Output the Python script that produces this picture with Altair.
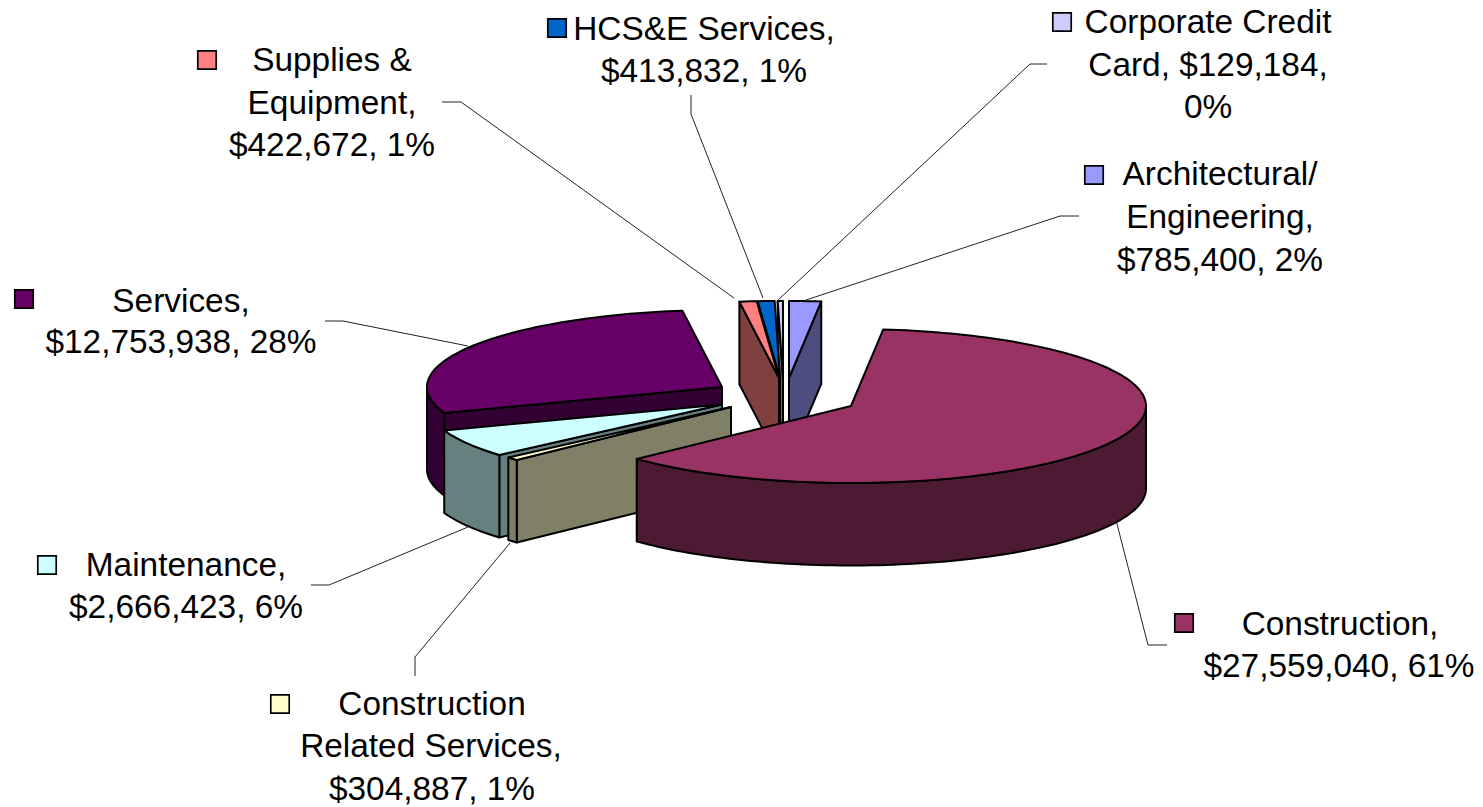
import math
import altair as alt
import pandas as pd

# ---- data
categories = ["Architectural/Engineering", "Construction", "Construction Related Services",
              "Maintenance", "Services", "Supplies & Equipment", "HCS&E Services", "Corporate Credit Card"]
values = [785400, 27559040, 304887, 2666423, 12753938, 422672, 413832, 129184]
top_colors = ["#9999ff", "#993366", "#ffffcc", "#ccffff", "#660066", "#ff8080", "#0066cc", "#ccccff"]
wall_colors = ["#4d4d80", "#4d1a33", "#808066", "#668080", "#330033", "#804040", "#003366", "#666680"]

# ---- layout of the exploded 3-D pie (page pixels)
apex_x = [789, 851, 731, 722, 722, 779, 780, 783]
apex_y = [378, 406, 407, 404.5, 387, 378, 378, 378]
RX, RY, DEPTH = 295, 77, 82.5
draw_order = [4, 3, 2, 7, 6, 5, 0, 1]

label_lines = [
    ("Corporate Credit", 1208, 33), ("Card, $129,184,", 1208, 75.5), ("0%", 1208, 118),
    ("Architectural/", 1220, 185), ("Engineering,", 1220, 228), ("$785,400, 2%", 1220, 271),
    ("HCS&E Services,", 704, 40), ("$413,832, 1%", 704, 82),
    ("Supplies &", 332, 71), ("Equipment,", 332, 114), ("$422,672, 1%", 332, 156),
    ("Services,", 181, 312), ("$12,753,938, 28%", 181, 353),
    ("Maintenance,", 186, 576), ("$2,666,423, 6%", 186, 618),
    ("Construction", 432, 715), ("Related Services,", 431, 757), ("$304,887, 1%", 432, 800),
    ("Construction,", 1340, 635), ("$27,559,040, 61%", 1339, 677),
]
key_x = [1094, 1184, 280, 47, 24, 207, 557, 1062]
key_y = [175, 623, 704, 565, 299, 60, 28, 22]
leaders = [
    [(1047, 64), (1030, 64), (777, 301)],
    [(1079, 216), (1060, 216), (806, 300)],
    [(691, 95), (691, 114), (763, 298)],
    [(442, 102), (461, 102), (734, 298)],
    [(325, 321), (343, 321), (468, 346)],
    [(311, 585), (329, 585), (468, 527)],
    [(415, 676), (415, 657), (510, 543)],
    [(1167, 645), (1148, 645), (1116, 520)],
]

FONT = "Liberation Sans"
W, H = 1467, 791
xs = alt.Scale(domain=[8, 8 + W], range=[0, W])
ys = alt.Scale(domain=[8, 8 + H], range=[0, H])

# ---- slice geometry from the values
total = sum(values)
starts, ends, acc = [], [], 0.0
for v in values:
    starts.append(acc / total * 2 * math.pi)
    acc += v
    ends.append(acc / total * 2 * math.pi)


def rim(i, a):
    return apex_x[i] + RX * math.sin(a), apex_y[i] - RY * math.cos(a)


def arc(i, a0, a1):
    n = max(2, int(abs(a1 - a0) / math.radians(1.5)) + 1)
    return [rim(i, a0 + (a1 - a0) * k / n) for k in range(n + 1)]


rows = []
pid = 0


def add(poly, fill):
    global pid
    poly = list(poly) + [poly[0], poly[1]]
    for s, (x, y) in enumerate(poly):
        rows.append({"pid": pid, "seq": s, "x": x, "y": y, "fill": fill})
    pid += 1


for i in draw_order:
    a0, a1 = starts[i], ends[i]
    ap = (apex_x[i], apex_y[i])
    down = lambda p: (p[0], p[1] + DEPTH)
    for a, visible in ((a0, math.sin(a0) < -1e-9), (a1, math.sin(a1) > 1e-9)):
        if visible:
            p = rim(i, a)
            add([ap, p, down(p), down(ap)], wall_colors[i])
    lo, hi = max(a0, math.pi / 2), min(a1, 3 * math.pi / 2)
    if hi > lo:
        front = arc(i, lo, hi)
        add(front + [down(p) for p in reversed(front)], wall_colors[i])
    add([ap] + arc(i, a0, a1), top_colors[i])

poly_df = pd.DataFrame(rows)
pie = alt.Chart(poly_df).mark_line(stroke="black", strokeWidth=2, strokeJoin="round", interpolate="linear").encode(
    x=alt.X("x:Q", scale=xs, axis=None),
    y=alt.Y("y:Q", scale=ys, axis=None),
    detail="pid:N",
    order="seq:Q",
    fill=alt.Fill("fill:N", scale=None),
)

lead_df = pd.DataFrame([
    {"id": k, "seq": s, "x": p[0], "y": p[1]} for k, line in enumerate(leaders) for s, p in enumerate(line)
])
lead = alt.Chart(lead_df).mark_line(stroke="#222222", strokeWidth=1).encode(
    x=alt.X("x:Q", scale=xs, axis=None),
    y=alt.Y("y:Q", scale=ys, axis=None),
    detail="id:N",
    order="seq:Q",
)

key_df = pd.DataFrame({"x": key_x, "y": key_y, "fill": top_colors, "cat": categories})
keys = alt.Chart(key_df).mark_square(size=340, stroke="black", strokeWidth=1.7, opacity=1).encode(
    x=alt.X("x:Q", scale=xs, axis=None),
    y=alt.Y("y:Q", scale=ys, axis=None),
    fill=alt.Fill("fill:N", scale=None),
)

text_df = pd.DataFrame(label_lines, columns=["t", "x", "y"])
texts = alt.Chart(text_df).mark_text(font=FONT, fontSize=33.4, align="center", baseline="alphabetic", color="black").encode(
    x=alt.X("x:Q", scale=xs, axis=None),
    y=alt.Y("y:Q", scale=ys, axis=None),
    text="t:N",
)

chart = alt.layer(lead, pie, keys, texts).properties(
    width=W, height=H,
    padding={"left": 0, "top": 0, "right": 0, "bottom": 8},
    autosize=alt.AutoSizeParams(type="none"),
    background="white",
).configure_view(stroke=None)

chart.save("out.html", embed_options={"renderer": "svg", "actions": False})
